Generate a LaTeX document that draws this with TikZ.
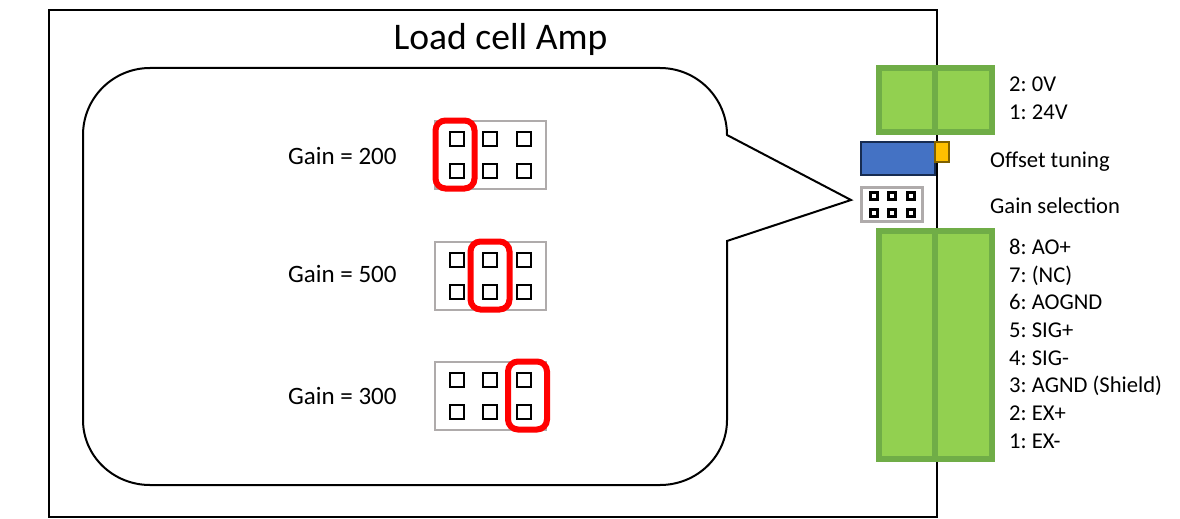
\documentclass[tikz,border=0pt]{standalone}
\usepackage{fontspec}
\setmainfont{Carlito}
\usetikzlibrary{positioning,calc}
\definecolor{AmpGreen}{HTML}{92D050}
\definecolor{AmpGreenDark}{HTML}{70AD47}
\definecolor{AmpBlue}{HTML}{4472C4}
\definecolor{AmpBlueDark}{HTML}{172C51}
\definecolor{AmpOrange}{HTML}{FFC000}
\definecolor{AmpOrangeDark}{HTML}{7F6000}
\definecolor{AmpGrey}{HTML}{AFABAB}
\definecolor{AmpRed}{HTML}{FF0000}
\tikzset{
  label23/.style={anchor=base west,inner sep=0pt,font=\fontsize{22.6}{26}\selectfont\frenchspacing},
  label25/.style={anchor=base west,inner sep=0pt,font=\fontsize{25}{29}\selectfont\frenchspacing},
  terminal/.style={draw=AmpGreenDark,fill=AmpGreen,line width=6pt},
  header/.style={draw=AmpGrey,fill=white,line width=2pt},
  pin/.style={draw=black,fill=white,line width=2pt,minimum size=13.5pt,inner sep=0pt,outer sep=0pt},
  smallpin/.style={draw=black,fill=white,line width=3pt,minimum size=7pt,inner sep=0pt,outer sep=0pt},
  jumper/.style={draw=AmpRed,line width=6pt,rounded corners=10pt},
}
\begin{document}
\begin{tikzpicture}[x=1pt,y=-1pt]
  \useasboundingbox (0,0) rectangle (1180,519);
  % amp housing
  \draw[line width=2pt] (49,10) rectangle (937,517);
  \node[anchor=base,inner sep=0pt,font=\fontsize{37.6}{42}\selectfont] (title) at (500.5,49.5) {Load cell Amp};
  % speech bubble
  \draw[line width=2pt,fill=white] (150,68) -- (660,68) .. controls (697,68) and (727,98) .. (727,135)
    -- (851,200) -- (727,241) -- (727,420) .. controls (727,456) and (697,485) .. (660,485)
    -- (150,485) .. controls (113,485) and (83,456) .. (83,420) -- (83,135)
    .. controls (83,98) and (113,68) .. (150,68) -- cycle;
  % three gain settings
  \foreach \name/\txt/\base/\top/\jl/\jr in {a/200/164/121/435.5/474.5,b/500/282/242/470.5/509.5,c/300/404/362/508/547} {
    \node[label25] (gain\name) at (288,\base) {Gain = \txt};
    \draw[header] (435,\top) rectangle ++(111,68);
    \foreach \x in {457,490,524} {
      \node[pin] (pin\name\x) at (\x,\top+18) {};
      \node[pin] (pinb\name\x) at (\x,\top+50) {};
    }
    \draw[jumper] (\jl,\top-0.5) rectangle (\jr,\top+67.5);
  }
  % terminal blocks
  \draw[terminal] (879,68) rectangle (935,132);
  \draw[terminal] (935,68) rectangle (992,132);
  \draw[terminal] (879,231) rectangle (935,459);
  \draw[terminal] (935,231) rectangle (992,459);
  \foreach \txt/\base in {2: 0V/92,1: 24V/119} {
    \node[label23] (top\base) at (1009,\base) {\txt};
  }
  \foreach \txt/\base in {8: AO+/254,7: (NC)/282,6: AOGND/309,5: SIG+/337,4: SIG-/365,3: AGND (Shield)/392,2: EX+/420,1: EX-/448} {
    \node[label23] (bot\base) at (1009,\base) {\txt};
  }
  % offset trimmer
  \draw[draw=AmpBlueDark,fill=AmpBlue,line width=2pt] (861,142) rectangle (935,175);
  \draw[draw=AmpOrangeDark,fill=AmpOrange,line width=2pt] (935,142) rectangle (949,162);
  \node[label23] (offset) at (990,167.5) {Offset tuning};
  % gain header
  \draw[draw=AmpGrey,fill=white,line width=3pt] (861.5,187.5) rectangle (922.5,221.5);
  \foreach \x in {874,892,911} {
    \node[smallpin] (spa\x) at (\x,196) {};
    \node[smallpin] (spb\x) at (\x,213) {};
  }
  \node[label23] (gainsel) at (990,213) {Gain selection};
\end{tikzpicture}
\end{document}
